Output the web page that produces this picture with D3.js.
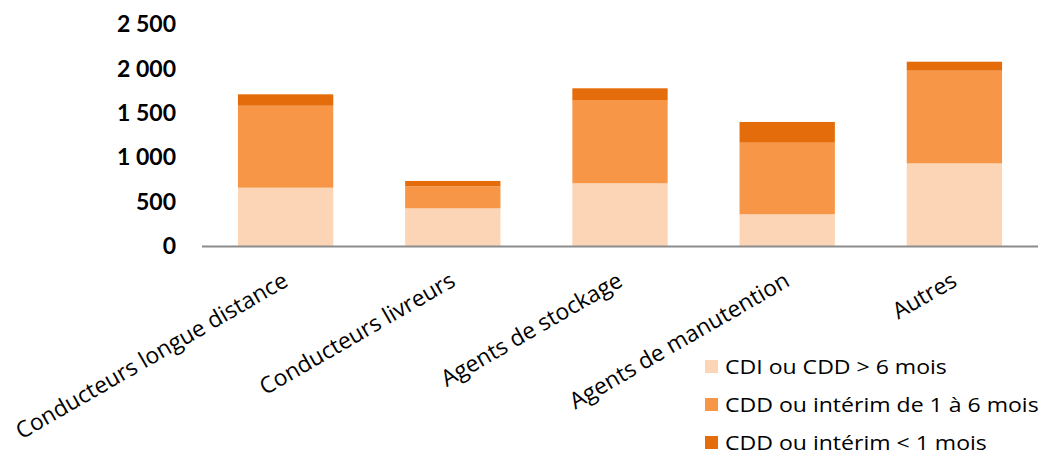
<!DOCTYPE html>
<html><head><meta charset="utf-8">
<script src="https://cdn.jsdelivr.net/npm/d3@7"></script>
<style>body{margin:0;background:#fff}svg{display:block}text{font-family:"Open Sans",sans-serif}</style>
</head><body>
<svg id="c" width="1043" height="455"></svg>
<script>
const categories = ["Conducteurs longue distance","Conducteurs livreurs","Agents de stockage","Agents de manutention","Autres"];
const seriesNames = ["CDI ou CDD > 6 mois","CDD ou intérim de 1 à 6 mois","CDD ou intérim < 1 mois"];
const cdiLong = [658, 425, 708, 358, 933];
const interim1to6 = [925, 249, 940, 808, 1046];
const interimShort = [129, 60, 132, 234, 101];
const yTicks = [0, 500, 1000, 1500, 2000, 2500];
const yTickLabels = ["0","500","1 000","1 500","2 000","2 500"];
const colors = ["#FBD5B5","#F79646","#E46C0A"];

const svg = d3.select("#c");
const x = d3.scaleBand().domain(categories).range([202, 1038]).paddingInner(0.43).paddingOuter(0.215);
const y = d3.scaleLinear().domain([0, 2500]).range([246, 24.5]);

const rows = categories.map((c,i)=>({cat:c, s0:cdiLong[i], s1:interim1to6[i], s2:interimShort[i]}));
const stack = d3.stack().keys(["s0","s1","s2"])(rows);

svg.append("g").selectAll("g").data(stack).join("g")
  .attr("fill",(d,i)=>colors[i])
  .selectAll("rect").data(d=>d).join("rect")
  .attr("x",d=>x(d.data.cat)).attr("width",x.bandwidth())
  .attr("y",d=>y(d[1])).attr("height",d=>y(d[0])-y(d[1]));

// x axis line
svg.append("line").attr("x1",202).attr("x2",1038).attr("y1",y(0)+0.5).attr("y2",y(0)+0.5)
  .attr("stroke","#8c8c8c").attr("stroke-width",2);

// y axis labels
const yAxis = d3.axisLeft(y).tickValues(yTicks).tickFormat((d,i)=>yTickLabels[i]).tickSize(0).tickPadding(0);
const ya = svg.append("g").attr("transform","translate(176,0)").call(yAxis);
ya.select(".domain").remove();
ya.selectAll("text").attr("font-size",23).attr("font-weight","bold").attr("fill","#000")
  .style("font-family","Lato,sans-serif");

// category labels
const xAxis = d3.axisBottom(x).tickSize(0).tickPadding(0);
const xa = svg.append("g").attr("transform","translate(0,"+y(0)+")").call(xAxis);
xa.select(".domain").remove();
xa.selectAll("text").attr("font-size",22.8).attr("fill","#000").style("font-family","'Open Sans',sans-serif")
  .attr("text-anchor","end").attr("dy",null).attr("y",0)
  .attr("transform","translate(4,39) rotate(-30)");

// legend
const lg = svg.append("g");
seriesNames.forEach((n,i)=>{
  const base = 373.5 + i*38;
  lg.append("rect").attr("x",705).attr("y",base-13.5).attr("width",13).attr("height",13).attr("fill",colors[i]);
  lg.append("text").attr("transform","translate(725,"+base+") scale(1.125,1)")
    .attr("font-size",20.5).attr("fill","#000").text(n);
});
</script>
</body></html>
